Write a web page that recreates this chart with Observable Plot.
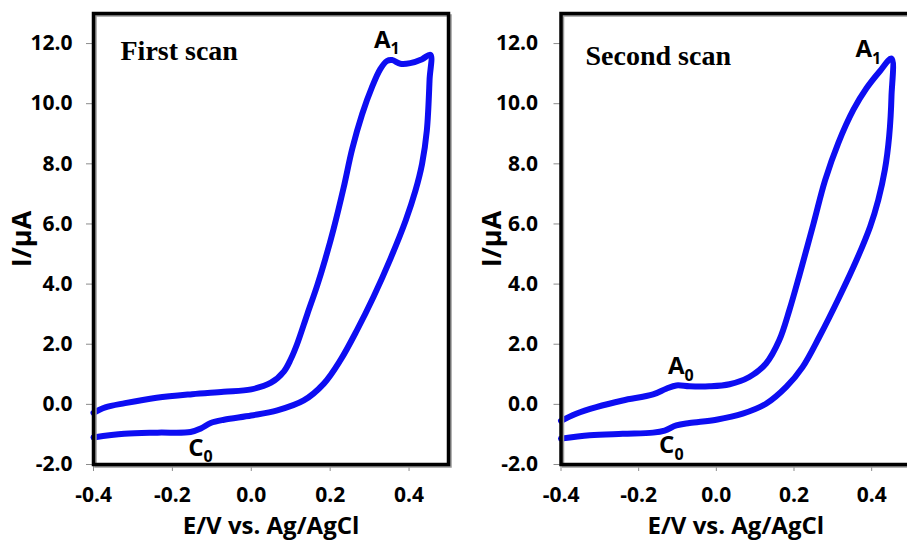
<!DOCTYPE html>
<html><head><meta charset="utf-8">
<script src="https://cdn.jsdelivr.net/npm/d3@7"></script>
<script src="https://cdn.jsdelivr.net/npm/@observablehq/plot@0.6"></script>
<style>
body{margin:0;background:#fff;overflow:hidden;}
#wrap{position:relative;width:907px;height:540px;overflow:hidden;background:#fff;}
#wrap svg{position:absolute;top:0;max-width:none !important;}
g[aria-label="x-axis tick"], g[aria-label="y-axis tick"]{stroke:#8c8c8c;}
g[aria-label="x-axis tick label"], g[aria-label="y-axis tick label"]{font-size:21px !important;font-family:'Open Sans',sans-serif;font-weight:700;}
</style></head><body><div id="wrap"></div>
<script>
// ---- data ----
const xTicks = [-0.4, -0.2, 0.0, 0.2, 0.4];
const yTicks = [-2, 0, 2, 4, 6, 8, 10, 12];

// First scan (E in V vs Ag/AgCl, I in µA), in scan order
const scan1E = [-0.40,-0.37,-0.32,-0.24,-0.15,-0.07,0.00,0.05,0.083,0.10,0.116,0.142,0.167,0.188,0.209,0.234,0.256,0.281,0.306,0.327,0.344,0.357,0.378,0.403,0.433,0.454,
                0.452,0.445,0.433,0.416,0.391,0.353,0.31,0.268,0.226,0.184,0.133,0.066,0.0,-0.069,-0.103,-0.128,-0.154,-0.238,-0.322,-0.40];
const scan1I = [-0.28,-0.10,0.04,0.22,0.34,0.42,0.50,0.72,1.10,1.50,2.00,3.00,3.95,4.85,5.85,7.20,8.50,9.65,10.55,11.15,11.42,11.45,11.33,11.35,11.48,11.63,
                10.80,9.10,8.00,7.10,6.10,4.85,3.58,2.47,1.47,0.69,0.13,-0.20,-0.37,-0.51,-0.62,-0.80,-0.92,-0.94,-0.98,-1.10];

// Second scan
const scan2E = [-0.40,-0.361,-0.309,-0.241,-0.163,-0.129,-0.103,-0.069,-0.018,0.034,0.085,0.128,0.162,0.188,0.214,0.25,0.28,0.314,0.353,0.387,0.421,0.451,
                0.451,0.445,0.434,0.417,0.396,0.361,0.317,0.265,0.222,0.18,0.128,0.068,0.0,-0.069,-0.103,-0.133,-0.163,-0.241,-0.326,-0.40];
const scan2I = [-0.55,-0.31,-0.09,0.13,0.33,0.52,0.63,0.60,0.60,0.67,0.91,1.36,2.13,3.13,4.30,6.00,7.45,8.69,9.80,10.52,11.08,11.50,
                10.24,8.91,7.80,6.80,5.91,4.80,3.58,2.24,1.24,0.58,0.02,-0.31,-0.51,-0.62,-0.70,-0.87,-0.94,-0.98,-1.03,-1.14];

// peak labels
const ann1Letter = ["A", "C"];
const ann1Sub = ["1", "0"];
const ann1E = [0.353, -0.121];
const ann1I = [12.11, -1.45];

const ann2Letter = ["A", "A", "C"];
const ann2Sub = ["1", "0", "0"];
const ann2E = [0.401, -0.082, -0.108];
const ann2I = [11.80, 1.26, -1.37];

const titles = ["First scan", "Second scan"];
const yLabel = "I/µA";
const xLabel = "E/V vs. Ag/AgCl";

// ---- drawing ----
const BLUE = "#0d0df2";
const SANS = "'Open Sans', sans-serif";

function panel(E, I, letters, subs, aE, aI, title, opts) {
  const data = E.map((e, i) => ({E: e, I: I[i]}));
  const ann = letters.map((l, i) => ({l, s: subs[i], E: aE[i], I: aI[i]}));
  return Plot.plot({
    width: opts.width, height: 540,
    marginLeft: opts.marginLeft, marginRight: opts.marginRight, marginTop: 13, marginBottom: 76,
    style: {fontFamily: SANS, fontWeight: 700, fontSize: "21px", color: "black", background: "transparent", overflow: opts.overflow},
    x: {domain: [-0.4, 0.5], ticks: xTicks, tickFormat: d => d.toFixed(1), tickSize: 7, tickPadding: 16, label: null},
    y: {domain: [-2, 13], ticks: yTicks, tickFormat: d => d.toFixed(1), tickSize: 7, tickPadding: opts.yPad, label: null},
    marks: [
      Plot.text(ann, {x: "E", y: "I", text: "l", textAnchor: "end", fontSize: 24, fontFamily: SANS, fontWeight: 700}),
      Plot.text(ann, {x: "E", y: "I", text: "s", textAnchor: "start", dy: 9, fontSize: 16, fontFamily: SANS, fontWeight: 700}),
      Plot.line(data, {x: "E", y: "I", stroke: BLUE, strokeWidth: 6, curve: "catmull-rom", strokeLinejoin: "round", strokeLinecap: "round"}),
      Plot.frame({stroke: "#9a9a9a", strokeWidth: 2.5, dx: 2, dy: 2}),
      Plot.frame({stroke: "black", strokeWidth: 3.5}),
      Plot.text([title], {frameAnchor: "top-left", dx: opts.titleDx, dy: opts.titleDy, lineAnchor: "top",
        fontFamily: "'Liberation Serif', 'Times New Roman', serif", fontWeight: 700, fontSize: 28}),
      Plot.text([yLabel], {frameAnchor: "left", dx: opts.yLabDx, rotate: -90, textAnchor: "middle", fontSize: 27, fontFamily: SANS, fontWeight: 700}),
      Plot.text([xLabel], {frameAnchor: "bottom", dy: 62, textAnchor: "middle", lineAnchor: "middle", fontSize: 24, fontFamily: SANS, fontWeight: 700})
    ]
  });
}

const wrap = document.getElementById("wrap");
const p1 = panel(scan1E, scan1I, ann1Letter, ann1Sub, ann1E, ann1I, titles[0],
  {width: 460, marginLeft: 93, marginRight: 12, yPad: 14, titleDx: 27, titleDy: 27, yLabDx: -71, overflow: "visible"});
p1.style.left = "0px";
wrap.appendChild(p1);
// second panel: its right frame edge falls just past the page's right edge, as in the reference
const p2 = panel(scan2E, scan2I, ann2Letter, ann2Sub, ann2E, ann2I, titles[1],
  {width: 440, marginLeft: 93.5, marginRight: -3, yPad: 16, titleDx: 24.5, titleDy: 32, yLabDx: -68.5, overflow: "hidden"});
p2.style.left = "467px";
wrap.appendChild(p2);
</script>
</body></html>
